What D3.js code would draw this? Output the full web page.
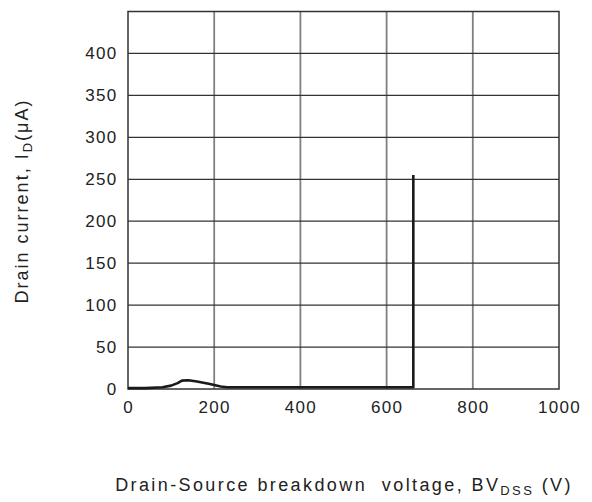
<!DOCTYPE html>
<html>
<head>
<meta charset="utf-8">
<script src="https://cdn.jsdelivr.net/npm/d3@7"></script>
<style>
  body { margin: 0; background: #fff; }
  text { font-family: "Liberation Sans", Arial, sans-serif; fill: #222; }
</style>
</head>
<body>
<div id="graph"></div>
<script>
const voltage = [0, 40, 80, 100, 115, 125, 140, 160, 190, 215, 230, 400, 600, 662, 662];
const current = [1, 1, 2, 4, 7, 10, 10.5, 9, 6, 3, 2, 2, 2, 2, 255];

const xTicks = [0, 200, 400, 600, 800, 1000];
const yTicks = [0, 50, 100, 150, 200, 250, 300, 350, 400];
const yGrid = [50, 100, 150, 200, 250, 300, 350, 400];
const xGrid = [200, 400, 600, 800];

const width = 592;
const height = 502;
const marginLeft = 128;
const marginRight = 33;
const marginTop = 11.5;
const marginBottom = 113;

const xScale = d3.scaleLinear()
                 .domain([0, 1000])
                 .range([marginLeft, width - marginRight]);

const yScale = d3.scaleLinear()
                 .domain([0, 450])
                 .range([height - marginBottom, marginTop]);

const svg = d3.create("svg")
              .attr("width", width)
              .attr("height", height);

//grid
svg.append("g")
   .selectAll("line")
   .data(xGrid)
   .join("line")
   .attr("x1", d => xScale(d))
   .attr("x2", d => xScale(d))
   .attr("y1", yScale(0))
   .attr("y2", yScale(450))
   .attr("stroke", "#808080")
   .attr("stroke-width", 1.8);

svg.append("g")
   .selectAll("line")
   .data(yGrid)
   .join("line")
   .attr("x1", xScale(0))
   .attr("x2", xScale(1000))
   .attr("y1", d => yScale(d))
   .attr("y2", d => yScale(d))
   .attr("stroke", "#333")
   .attr("stroke-width", 1.2);

//frame
svg.append("rect")
   .attr("x", xScale(0))
   .attr("y", yScale(450))
   .attr("width", xScale(1000) - xScale(0))
   .attr("height", yScale(0) - yScale(450))
   .attr("fill", "none")
   .attr("stroke", "#333")
   .attr("stroke-width", 1.5);

//axes
const xAxis = d3.axisBottom(xScale)
                .tickValues(xTicks)
                .tickFormat(d3.format("d"))
                .tickSize(0)
                .tickPadding(12);

const yAxis = d3.axisLeft(yScale)
                .tickValues(yTicks)
                .tickFormat(d3.format("d"))
                .tickSize(0)
                .tickPadding(10.5);

svg.append("g")
   .attr("transform", `translate(0, ${yScale(0)})`)
   .call(xAxis)
   .call(g => g.select(".domain").remove())
   .selectAll("text")
   .attr("font-size", 17)
   .attr("letter-spacing", 1.3)
   .attr("font-family", "Liberation Sans, Arial, sans-serif")
   .attr("fill", "#222");

svg.append("g")
   .attr("transform", `translate(${xScale(0)}, 0)`)
   .call(yAxis)
   .call(g => g.select(".domain").remove())
   .selectAll("text")
   .attr("font-size", 17)
   .attr("letter-spacing", 1.3)
   .attr("font-family", "Liberation Sans, Arial, sans-serif")
   .attr("fill", "#222");

//curve
const line = d3.line()
               .x((d, i) => xScale(voltage[i]))
               .y(d => yScale(d))
               .curve(d3.curveLinear);

svg.append("path")
   .attr("d", line(current))
   .attr("fill", "none")
   .attr("stroke", "#1a1a1a")
   .attr("stroke-width", 2.6)
   .attr("stroke-linejoin", "round");

//axis titles
const yTitle = svg.append("text")
   .attr("transform", `translate(28, 201) rotate(-90)`)
   .attr("text-anchor", "middle")
   .attr("letter-spacing", 2)
   .attr("font-size", 18);
yTitle.append("tspan").text("Drain current, I");
yTitle.append("tspan").attr("font-size", 13).attr("dy", 4).text("D");
yTitle.append("tspan").attr("dy", -4).text("(\u03bcA)");

const xTitle = svg.append("text")
   .attr("x", 344)
   .attr("y", 491)
   .attr("text-anchor", "middle")
   .attr("letter-spacing", 2.4)
   .attr("font-size", 18);
xTitle.append("tspan").text("Drain-Source breakdown\u00a0 voltage, BV");
xTitle.append("tspan").attr("font-size", 13).attr("dy", 4).text("DSS");
xTitle.append("tspan").attr("dy", -4).text(" (V)");

d3.select("#graph").append(() => svg.node());
</script>
</body>
</html>
